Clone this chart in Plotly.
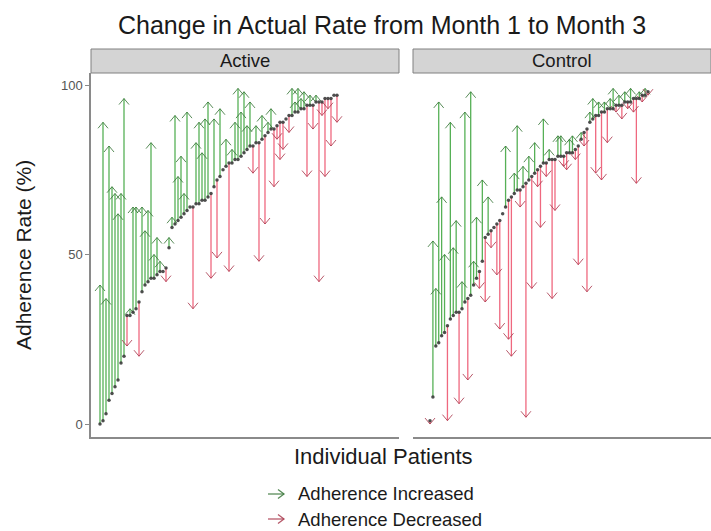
import numpy as np
import plotly.graph_objects as go

# ---------------- data ----------------
groups = ["Active", "Control"]

active_month1 = [0, 1, 3, 7, 9, 11, 13, 18, 20, 32,
                 32, 33, 34, 36, 39, 41, 42, 43, 43, 44,
                 45, 45, 46, 52, 58, 59, 60, 61, 62, 63,
                 64, 64, 65, 65, 66, 66, 67, 68, 70, 72,
                 73, 75, 76, 77, 77, 78, 78, 79, 80, 81,
                 82, 82, 83, 83, 84, 85, 86, 87, 87, 88,
                 89, 89, 90, 91, 91, 92, 92, 93, 93, 94,
                 94, 94, 95, 95, 95, 96, 96, 96, 97, 97]
active_month3 = [41, 89, 37, 82, 70, 68, 62, 68, 96, 23,
                 34, 64, 64, 20, 64, 57, 63, 83, 50, 55,
                 48, 45, 42, 55, 61, 91, 73, 79, 68, 92,
                 64, 34, 83, 89, 80, 90, 95, 43, 90, 49,
                 93, 75, 84, 45, 81, 89, 99, 92, 98, 88,
                 95, 74, 88, 48, 91, 59, 89, 93, 70, 84,
                 78, 81, 90, 86, 99, 95, 99, 96, 98, 73,
                 97, 87, 97, 42, 91, 73, 93, 82, 97, 89]

control_month1 = [1, 8, 23, 24, 26, 27, 29, 31, 32, 33,
                  33, 34, 36, 37, 38, 41, 43, 45, 48, 55,
                  56, 57, 58, 59, 60, 62, 64, 66, 67, 68,
                  69, 69, 70, 71, 72, 73, 74, 75, 76, 77,
                  77, 78, 78, 78, 79, 79, 79, 80, 80, 80,
                  81, 82, 84, 86, 87, 89, 90, 91, 91, 92,
                  92, 93, 93, 93, 94, 94, 94, 95, 95, 95,
                  96, 96, 96, 97, 97, 98]
control_month3 = [0, 54, 40, 95, 67, 50, 1, 89, 52, 60,
                  6, 42, 92, 13, 98, 48, 61, 40, 72, 36,
                  67, 52, 58, 44, 28, 62, 82, 25, 20, 74,
                  88, 64, 76, 2, 79, 40, 83, 70, 58, 90,
                  73, 81, 37, 63, 85, 85, 76, 75, 84, 85,
                  78, 47, 86, 82, 39, 92, 96, 74, 95, 72,
                  95, 83, 96, 99, 92, 97, 90, 98, 93, 99,
                  92, 71, 98, 95, 99, 97]

y_ticks = [0, 50, 100]
legend_labels = ["Adherence Increased", "Adherence Decreased"]

# ---------------- layout geometry ----------------
W, H = 711, 531
ML, MR, MT, MB = 91, 0, 73, 94
PW, PH = W - ML - MR, H - MT - MB
YR = [-3.83, 103.54]
panels = {
    "Active": dict(m1=active_month1, m3=active_month3, dom=[0.0, 308 / PW],
                   xr=[-2.0, 100.67], xa="x", ya="y"),
    "Control": dict(m1=control_month1, m3=control_month3, dom=[322 / PW, 1.0],
                    xr=[-4.85, 97.67], xa="x2", ya="y2"),
}

GREEN = "rgba(30,150,30,0.75)"
GREEN_HEAD = "rgba(60,120,60,0.85)"
RED = "rgba(232,40,72,0.70)"
RED_HEAD = "rgba(170,60,80,0.85)"
FONT = "Liberation Sans, Arial, sans-serif"
TXT = "#1a1a1a"

fig = go.Figure()

head_w_px, head_h_px = 5.0, 6.0
px_per_y = PH / (YR[1] - YR[0])
for name in groups:
    p = panels[name]
    m1 = np.array(p["m1"], float)
    m3 = np.array(p["m3"], float)
    x = np.arange(1, len(m1) + 1, dtype=float)
    dom_px = (p["dom"][1] - p["dom"][0]) * PW
    px_per_x = dom_px / (p["xr"][1] - p["xr"][0])
    hx = head_w_px / px_per_x
    hy = head_h_px / px_per_y
    for mask, col, hcol, sgn in [(m3 > m1, GREEN, GREEN_HEAD, 1),
                                 (m3 < m1, RED, RED_HEAD, -1)]:
        xs, ys, hxs, hys = [], [], [], []
        for xi, a, b in zip(x[mask], m1[mask], m3[mask]):
            xs += [xi, xi, None]
            ys += [a, b, None]
            hxs += [xi - hx, xi, xi + hx, None]
            hys += [b - sgn * hy, b, b - sgn * hy, None]
        fig.add_trace(go.Scatter(x=xs, y=ys, mode="lines", line=dict(color=col, width=1.3),
                                 xaxis=p["xa"], yaxis=p["ya"], showlegend=False, hoverinfo="skip"))
        fig.add_trace(go.Scatter(x=hxs, y=hys, mode="lines", line=dict(color=hcol, width=1.0),
                                 xaxis=p["xa"], yaxis=p["ya"], showlegend=False, hoverinfo="skip"))
    fig.add_trace(go.Scatter(x=x, y=m1, mode="markers",
                             marker=dict(color="rgba(60,60,60,0.9)", size=3.5, line=dict(width=0)),
                             xaxis=p["xa"], yaxis=p["ya"], showlegend=False))

axis_line = "#8a8a8a"
fig.update_layout(
    template="none",
    width=W, height=H, margin=dict(l=ML, r=MR, t=MT, b=MB, pad=0),
    paper_bgcolor="white", plot_bgcolor="white", showlegend=False,
    font=dict(family=FONT, color=TXT),
    xaxis=dict(domain=panels["Active"]["dom"], range=panels["Active"]["xr"], showgrid=False,
               zeroline=False, showticklabels=False, ticks="", showline=True,
               linecolor=axis_line, linewidth=1.5),
    xaxis2=dict(domain=panels["Control"]["dom"], range=panels["Control"]["xr"], showgrid=False,
                zeroline=False, showticklabels=False, ticks="", showline=True,
                linecolor=axis_line, linewidth=1.5),
    yaxis=dict(range=YR, showgrid=False, zeroline=False, showline=True, linecolor=axis_line,
               linewidth=1.5, ticks="outside", ticklen=4, tickwidth=1, tickcolor=axis_line,
               tickvals=y_ticks, ticktext=[str(t) for t in y_ticks],
               tickfont=dict(size=13, color="#555555", family=FONT)),
    yaxis2=dict(range=YR, anchor="x2", showgrid=False, zeroline=False, showline=False,
                showticklabels=False, ticks="", tickvals=y_ticks),
)

def px2paper_x(px):
    return (px - ML) / PW

def px2paper_y(py):
    return (H - MB - py) / PH

# strips
for name in groups:
    d = panels[name]["dom"]
    fig.add_shape(type="rect", xref="paper", yref="paper", x0=d[0], x1=d[1],
                  y0=1.0, y1=px2paper_y(49), fillcolor="#d4d4d4",
                  line=dict(color="#808080", width=1), layer="above")
    fig.add_annotation(text=name, xref="paper", yref="paper", x=(d[0] + d[1]) / 2,
                       y=px2paper_y(60.5), showarrow=False, font=dict(size=18.5, color=TXT),
                       xanchor="center", yanchor="middle")

# titles
fig.add_annotation(text="Change in Actual Rate from Month 1 to Month 3", xref="paper", yref="paper",
                   x=px2paper_x(382), y=px2paper_y(25), showarrow=False,
                   font=dict(size=25, color=TXT), xanchor="center", yanchor="middle")
fig.add_annotation(text="Individual Patients", xref="paper", yref="paper",
                   x=px2paper_x(383), y=px2paper_y(456), showarrow=False,
                   font=dict(size=22, color=TXT), xanchor="center", yanchor="middle")
fig.add_annotation(text="Adherence Rate (%)", xref="paper", yref="paper",
                   x=px2paper_x(23), y=px2paper_y(255), showarrow=False, textangle=-90,
                   font=dict(size=21, color=TXT), xanchor="center", yanchor="middle")

# manual legend
for lab, col, cy in [(legend_labels[0], GREEN_HEAD, 494), (legend_labels[1], RED_HEAD, 519)]:
    x0, x1 = px2paper_x(268), px2paper_x(284)
    yy = px2paper_y(cy)
    fig.add_shape(type="line", xref="paper", yref="paper", x0=x0, x1=x1, y0=yy, y1=yy,
                  line=dict(color=col, width=1.3))
    fig.add_shape(type="path", xref="paper", yref="paper",
                  path=f"M {px2paper_x(278)} {px2paper_y(cy-4.5)} L {x1} {yy} L {px2paper_x(278)} {px2paper_y(cy+4.5)}",
                  line=dict(color=col, width=1.3))
    fig.add_annotation(text=lab, xref="paper", yref="paper", x=px2paper_x(296), y=yy,
                       showarrow=False, font=dict(size=18.5, color=TXT),
                       xanchor="left", yanchor="middle")

fig.write_html("out.html")
